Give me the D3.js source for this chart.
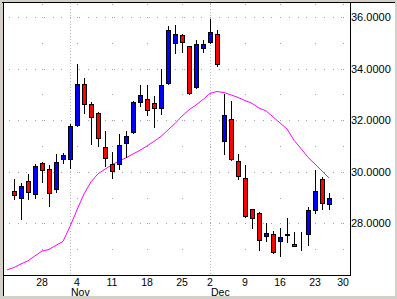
<!DOCTYPE html>
<html>
<head>
<meta charset="utf-8">
<script src="https://cdn.jsdelivr.net/npm/d3@7"></script>
<style>
  html, body { margin: 0; padding: 0; background: #fff; }
  svg { display: block; font-family: "Liberation Sans", Arial, sans-serif; }
</style>
</head>
<body>
<div id="chart"></div>
<script>
const width = 397;
const height = 299;
const plot = { left: 3, top: 3, right: 350, bottom: 275 };

// trading calendar shown on the axis (Oct 21 .. Dec 31, 2002)
const dates = [
  "2002-10-21", "2002-10-22", "2002-10-23", "2002-10-24", "2002-10-25",
  "2002-10-28", "2002-10-29", "2002-10-30", "2002-10-31", "2002-11-01",
  "2002-11-04", "2002-11-05", "2002-11-06", "2002-11-07", "2002-11-08",
  "2002-11-11", "2002-11-12", "2002-11-13", "2002-11-14", "2002-11-15",
  "2002-11-18", "2002-11-19", "2002-11-20", "2002-11-21", "2002-11-22",
  "2002-11-25", "2002-11-26", "2002-11-27", "2002-11-29", "2002-12-02",
  "2002-12-03", "2002-12-04", "2002-12-05", "2002-12-06", "2002-12-09",
  "2002-12-10", "2002-12-11", "2002-12-12", "2002-12-13", "2002-12-16",
  "2002-12-17", "2002-12-18", "2002-12-19", "2002-12-20", "2002-12-23",
  "2002-12-24", "2002-12-26", "2002-12-27", "2002-12-30", "2002-12-31",
];

// candles from Oct 22 to Dec 26
const candleStart = "2002-10-22";
const open = [
  29.26, 28.98, 29.63, 29.13, 30.33, 30.10, 29.32, 30.49, 30.51,
  31.80, 33.39, 32.62, 32.27, 30.95, 30.29, 30.29, 31.11, 31.53, 32.72,
  32.81, 32.66, 32.46, 33.45, 34.98, 35.29, 34.87, 33.28, 34.79,
  35.04, 35.33, 31.21, 32.04, 30.42, 29.75, 28.55, 28.39, 27.50, 27.58,
  27.31, 27.55, 27.22, 27.15, 27.57, 28.53, 29.73, 28.74,
];
const high = [
  29.71, 29.58, 29.93, 30.29, 30.37, 30.28, 30.69, 30.74, 31.87,
  34.18, 33.64, 32.72, 32.33, 31.58, 30.76, 31.46, 31.58, 32.76, 33.37,
  33.37, 32.94, 33.97, 35.65, 35.68, 35.34, 34.88, 35.11, 35.11,
  35.92, 35.50, 33.00, 32.75, 30.69, 30.25, 28.56, 28.44, 28.03, 27.72,
  27.81, 28.21, 27.66, 27.67, 28.65, 30.07, 29.79, 29.18,
];
const low = [
  28.96, 28.17, 28.96, 29.00, 29.62, 28.68, 29.21, 30.33, 30.16,
  31.78, 32.29, 31.08, 30.98, 30.24, 29.77, 30.10, 30.59, 31.50, 32.56,
  32.21, 31.75, 32.23, 33.40, 34.59, 34.63, 33.03, 33.25, 34.63,
  35.00, 34.11, 30.70, 30.46, 29.73, 28.25, 27.81, 26.98, 27.33, 26.86,
  26.75, 27.27, 27.14, 26.97, 27.18, 28.42, 28.57, 28.57,
];
const close = [
  29.09, 29.43, 29.21, 30.22, 30.06, 29.17, 30.37, 30.65, 31.78,
  33.39, 32.63, 32.11, 31.30, 30.53, 30.02, 31.03, 31.39, 32.69, 32.98,
  32.39, 32.46, 33.35, 35.48, 35.33, 35.02, 33.07, 34.94, 34.94,
  35.41, 34.17, 32.20, 30.51, 29.83, 28.29, 28.20, 27.35, 27.62, 26.88,
  27.46, 27.59, 27.14, 27.15, 28.51, 29.25, 28.78, 28.98,
];

// moving average, Oct 21 .. Dec 26
const maStart = "2002-10-21";
const ma = [
  26.20, 26.29, 26.43, 26.55, 26.74, 26.93, 26.99, 27.15, 27.30, 27.88,
  28.52, 29.14, 29.61, 29.92, 30.10, 30.27, 30.42, 30.54, 30.69, 30.83,
  31.00, 31.18, 31.37, 31.62, 31.87, 32.16, 32.40, 32.59, 32.80, 33.04,
  33.11, 33.07, 32.98, 32.88, 32.76, 32.65, 32.47, 32.36, 32.13, 31.89,
  31.66, 31.22, 30.90, 30.56, 30.30, 30.03, 29.76,
];

const tickDates = [
  "2002-10-28", "2002-11-04", "2002-11-11", "2002-11-18", "2002-11-25",
  "2002-12-02", "2002-12-09", "2002-12-16", "2002-12-23", "2002-12-30",
];
const monthStarts = ["2002-11-01", "2002-12-02"];
const yTicks = [28, 30, 32, 34, 36];

const parse = d3.timeParse("%Y-%m-%d");
const fmtDay = d3.timeFormat("%-d");
const fmtMonth = d3.timeFormat("%b");
const idx = (s) => dates.indexOf(s);
const px = (v) => Math.round(v) + 0.5;

const x = d3.scaleLinear().domain([0, dates.length - 1]).range([7, plot.right]);
const y = d3.scaleLinear().domain([26, 36.54]).range([plot.bottom, plot.top]);

const c0 = idx(candleStart);
const candles = open.map((o, i) => ({
  i: c0 + i, o: o, h: high[i], l: low[i], c: close[i],
}));

const svg = d3
  .select("#chart")
  .append("svg")
  .attr("width", width)
  .attr("height", height)
  .attr("shape-rendering", "crispEdges");

// window frame
svg.append("rect").attr("width", width).attr("height", height).attr("fill", "#d4d0c8");
svg.append("rect").attr("x", 3).attr("y", 3).attr("width", 392).attr("height", 293).attr("fill", "#fff");
svg.append("line").attr("x1", 3.5).attr("x2", 3.5).attr("y1", 2).attr("y2", 296).attr("stroke", "#000");
svg.append("line").attr("x1", 2).attr("x2", 395).attr("y1", 2.5).attr("y2", 2.5).attr("stroke", "#000");

const grid = svg.append("g").attr("fill", "#a0a0a0");

// month separators
svg
  .append("g")
  .selectAll("line")
  .data(monthStarts)
  .join("line")
  .attr("x1", (d) => px(x(idx(d))))
  .attr("x2", (d) => px(x(idx(d))))
  .attr("y1", plot.top)
  .attr("y2", plot.bottom)
  .attr("stroke", "#b8b8b8")
  .attr("stroke-dasharray", "1,2");

// dotted major rows
const dotIdx = d3.range(dates.length - 1, -1, -1.25);
yTicks.forEach((v) => {
  grid
    .selectAll(null)
    .data(dotIdx)
    .join("rect")
    .attr("x", (d) => Math.round(x(d)))
    .attr("y", Math.round(y(v)))
    .attr("width", 1)
    .attr("height", 1);
});

// dots where weeks cross each unit
const rows = d3.range(27, 37).concat([36.5]);
tickDates.forEach((t) => {
  grid
    .selectAll(null)
    .data(rows)
    .join("rect")
    .attr("x", Math.round(x(idx(t))))
    .attr("y", (d) => Math.round(y(d)))
    .attr("width", 1)
    .attr("height", 1);
});

// moving average
const maLine = d3
  .line()
  .x((d, i) => x(idx(maStart) + i))
  .y((d) => y(d));
svg
  .append("path")
  .datum(ma)
  .attr("d", maLine)
  .attr("fill", "none")
  .attr("stroke", "#ff00ff")
  .attr("stroke-width", 1)
  .attr("shape-rendering", "auto");

// candles
const cg = svg.append("g");
const candle = cg.selectAll("g").data(candles).join("g");

candle
  .append("line")
  .attr("x1", (d) => px(x(d.i)))
  .attr("x2", (d) => px(x(d.i)))
  .attr("y1", (d) => Math.round(y(d.h)))
  .attr("y2", (d) => Math.round(y(d.l)) + 1)
  .attr("stroke", "#000");

candle
  .append("rect")
  .attr("x", (d) => Math.round(x(d.i)) - 1.5)
  .attr("width", 4)
  .attr("y", (d) => px(y(Math.max(d.o, d.c))))
  .attr("height", (d) => Math.round(y(Math.min(d.o, d.c))) - Math.round(y(Math.max(d.o, d.c))))
  .attr("fill", (d) => (d.c > d.o ? "#0000ff" : d.c < d.o ? "#ff0000" : "#000"))
  .attr("stroke", "#000");

// axes lines
svg.append("line")
  .attr("x1", plot.left).attr("x2", px(plot.right) + 0.5)
  .attr("y1", px(plot.bottom)).attr("y2", px(plot.bottom))
  .attr("stroke", "#000");
svg.append("line")
  .attr("x1", px(plot.right)).attr("x2", px(plot.right))
  .attr("y1", plot.top).attr("y2", plot.bottom)
  .attr("stroke", "#000");

// y labels
svg
  .append("g")
  .selectAll("text")
  .data(yTicks)
  .join("text")
  .attr("x", plot.right + 1)
  .attr("y", (d) => y(d) + 4)
  .attr("font-size", "11px")
  .attr("fill", "#000")
  .text((d) => d.toFixed(4));

// x labels
svg
  .append("g")
  .selectAll("text")
  .data(tickDates)
  .join("text")
  .attr("x", (d) => x(idx(d)))
  .attr("y", 285.5)
  .attr("text-anchor", "middle")
  .attr("font-size", "10.5px")
  .attr("fill", "#000")
  .text((d) => fmtDay(parse(d)));

svg
  .append("g")
  .selectAll("text")
  .data(monthStarts)
  .join("text")
  .attr("x", (d) => Math.round(x(idx(d))) + 1)
  .attr("y", 296)
  .attr("font-size", "10.5px")
  .attr("fill", "#000")
  .text((d) => fmtMonth(parse(d)));
</script>
</body>
</html>
